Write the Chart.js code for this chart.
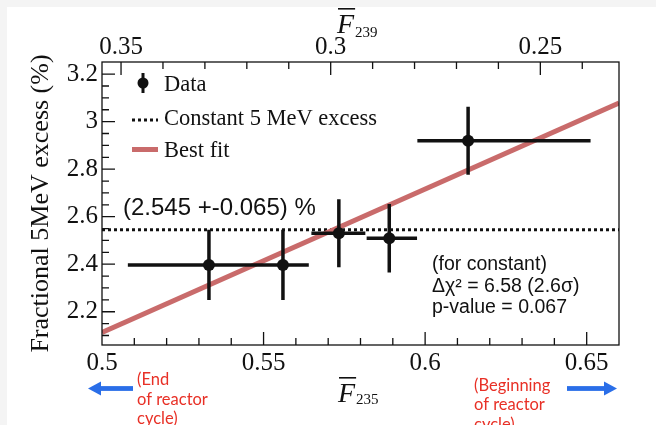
<!DOCTYPE html>
<html>
<head>
<meta charset="utf-8">
<script src="https://cdn.jsdelivr.net/npm/chart.js@4.4.0/dist/chart.umd.min.js"></script>
<style>
  html, body { margin: 0; padding: 0; background: #fff; }
  #wrap { width: 656px; height: 425px; position: relative; }
</style>
</head>
<body>
<div id="wrap"><canvas id="excessChart"></canvas></div>
<script>
'use strict';

/* fractional 5 MeV excess per fission-fraction bin */
const f235 = [0.5331, 0.5560, 0.5733, 0.5889, 0.6133];
const binLow = [0.508, 0.548, 0.5648, 0.5819, 0.5976];
const binHigh = [0.548, 0.564, 0.5815, 0.5975, 0.6512];
const excess = [2.397, 2.397, 2.530, 2.509, 2.920];
const excessErr = [0.148, 0.148, 0.143, 0.144, 0.143];

/* straight-line fit and the constant hypothesis */
const fitX = [0.5, 0.66];
const fitY = [2.113, 3.078];
const constExcess = 2.545;
const constErr = 0.065;

/* axes */
const xRange = [0.5, 0.66];
const yRange = [2.06, 3.251];
const f239Range = [0.23124, 0.35454];
const xTicks = [0.5, 0.55, 0.6, 0.65];
const yTicks = [2.2, 2.4, 2.6, 2.8, 3.0, 3.2];
const f239Ticks = [0.35, 0.3, 0.25];

const serif = '"Liberation Serif", "Times New Roman", serif';
const sans = '"Liberation Sans", Arial, sans-serif';
const ink = '#111';
const fitColor = '#c96b6b';
const noteRed = 'rgb(232, 48, 38)';
const arrowBlue = 'rgb(42, 110, 232)';

function tickLabel(v) {
    return String(Math.round(v * 1000) / 1000);
}

function fixedTicks(list) {
    return function(scale) {
        scale.ticks = list.map(v => ({ value: v }));
    };
}

/* error bars, drawn just before the data markers */
const errorBars = {
    id: 'errorBars',
    beforeDatasetDraw(chart, args) {
        if (args.index !== 0) return;
        const x = chart.scales.x;
        const y = chart.scales.y;
        const ctx = chart.ctx;
        ctx.save();
        ctx.strokeStyle = ink;
        ctx.lineWidth = 3.5;
        ctx.beginPath();
        for (let i = 0; i < f235.length; i++) {
            const px = x.getPixelForValue(f235[i]);
            const py = y.getPixelForValue(excess[i]);
            ctx.moveTo(x.getPixelForValue(binLow[i]), py);
            ctx.lineTo(x.getPixelForValue(binHigh[i]), py);
            ctx.moveTo(px, y.getPixelForValue(excess[i] + excessErr[i]));
            ctx.lineTo(px, y.getPixelForValue(excess[i] - excessErr[i]));
        }
        ctx.stroke();
        ctx.restore();
    }
};

/* frame with inward ticks */
const frameTicks = {
    id: 'frameTicks',
    afterDatasetsDraw(chart) {
        const ctx = chart.ctx;
        const a = chart.chartArea;
        const s = chart.scales;
        ctx.save();
        ctx.strokeStyle = ink;
        ctx.lineWidth = 1.3;
        ctx.strokeRect(a.left, a.top, a.right - a.left, a.bottom - a.top);
        ctx.beginPath();
        for (let v = 50; v <= 66; v++) {
            const px = s.x.getPixelForValue(v / 100);
            if (px < a.left + 2 || px > a.right - 2) continue;
            ctx.moveTo(px, a.bottom);
            ctx.lineTo(px, a.bottom - (v % 5 === 0 ? 13 : 7));
        }
        for (let v = 23; v <= 36; v++) {
            const px = s.x2.getPixelForValue(v / 100);
            if (px < a.left + 2 || px > a.right - 2) continue;
            ctx.moveTo(px, a.top);
            ctx.lineTo(px, a.top + (v % 5 === 0 ? 13 : 7));
        }
        for (let v = 41; v <= 66; v++) {
            const py = s.y.getPixelForValue(v / 20);
            if (py < a.top + 2 || py > a.bottom - 2) continue;
            ctx.moveTo(a.left, py);
            ctx.lineTo(a.left + (v % 4 === 0 ? 13 : 7), py);
        }
        ctx.stroke();
        ctx.restore();
    }
};

function barF(ctx, x, baseline, sub, subBaseline) {
    ctx.font = 'italic 28px ' + serif;
    ctx.fillText('F', x, baseline);
    const w = ctx.measureText('F').width;
    ctx.fillRect(x + 1, baseline - 25, w, 1.6);
    ctx.font = '15px ' + serif;
    ctx.fillText(sub, x + w + 1, subBaseline);
}

function arrow(ctx, tailX, tipX, y) {
    const dir = tipX > tailX ? 1 : -1;
    const head = 13;
    ctx.fillRect(Math.min(tailX, tipX - dir * head), y - 2.4, Math.abs(tipX - tailX) - head, 4.8);
    ctx.beginPath();
    ctx.moveTo(tipX, y);
    ctx.lineTo(tipX - dir * head, y - 7);
    ctx.lineTo(tipX - dir * head, y + 7);
    ctx.closePath();
    ctx.fill();
}

/* legend, notes, axis titles and the reactor-cycle hints */
const decorations = {
    id: 'decorations',
    beforeDraw(chart) {
        const ctx = chart.ctx;
        ctx.save();
        ctx.fillStyle = '#f4f4f4';
        ctx.fillRect(0, 0, chart.width, chart.height);
        ctx.fillStyle = '#fff';
        ctx.fillRect(7, 7, chart.width - 7, chart.height - 7);
        ctx.restore();
    },
    afterDraw(chart) {
        const ctx = chart.ctx;
        const ds = chart.data.datasets;
        ctx.save();

        // legend
        ctx.strokeStyle = ink;
        ctx.fillStyle = ink;
        ctx.lineWidth = 3;
        ctx.beginPath();
        ctx.moveTo(143, 73);
        ctx.lineTo(143, 93);
        ctx.stroke();
        ctx.beginPath();
        ctx.arc(143, 83, 5.5, 0, Math.PI * 2);
        ctx.fill();
        ctx.setLineDash(ds[2].borderDash);
        ctx.lineWidth = ds[2].borderWidth;
        ctx.beginPath();
        ctx.moveTo(132, 120);
        ctx.lineTo(158, 120);
        ctx.stroke();
        ctx.setLineDash([]);
        ctx.strokeStyle = ds[1].borderColor;
        ctx.lineWidth = ds[1].borderWidth;
        ctx.beginPath();
        ctx.moveTo(132, 149.5);
        ctx.lineTo(158, 149.5);
        ctx.stroke();
        ctx.font = '22.5px ' + serif;
        ctx.fillText(ds[0].label, 164, 90.5);
        ctx.fillText(ds[2].label, 164, 125);
        ctx.fillText(ds[1].label, 164, 157);

        // fitted constant and test statistic
        ctx.font = '24px ' + sans;
        ctx.fillText('(' + constExcess + ' +-' + constErr + ') %', 123, 215);
        ctx.font = '19.5px ' + sans;
        ctx.fillText('(for constant)', 432, 270);
        ctx.fillText('\u0394\u03c7\u00b2 = 6.58 (2.6\u03c3)', 432, 291.5);
        ctx.fillText('p-value = 0.067', 432, 313);

        // axis titles
        barF(ctx, 338, 402, '235', 403.5);
        barF(ctx, 337, 33, '239', 37);

        // reactor-cycle hints
        ctx.fillStyle = noteRed;
        ctx.font = '16.5px Lato, sans-serif';
        ['(End', 'of reactor', 'cycle)'].forEach((t, i) => ctx.fillText(t, 137, 385 + i * 19.5));
        ['(Beginning', 'of reactor', 'cycle)'].forEach((t, i) => ctx.fillText(t, 474, 390.5 + i * 19.5));
        ctx.fillStyle = arrowBlue;
        arrow(ctx, 133, 88, 388.5);
        arrow(ctx, 567, 617, 388.5);

        ctx.restore();
    }
};

const chart = new Chart(document.getElementById('excessChart'), {
    data: {
        datasets: [
            {
                type: 'scatter',
                label: 'Data',
                data: f235.map((x, i) => ({ x: x, y: excess[i] })),
                pointRadius: 6,
                pointBackgroundColor: ink,
                pointBorderWidth: 0
            },
            {
                type: 'line',
                label: 'Best fit',
                data: fitX.map((x, i) => ({ x: x, y: fitY[i] })),
                borderColor: fitColor,
                borderWidth: 5,
                pointRadius: 0
            },
            {
                type: 'line',
                label: 'Constant 5 MeV excess',
                data: xRange.map(x => ({ x: x, y: constExcess })),
                borderColor: ink,
                borderWidth: 3,
                borderDash: [3, 3],
                pointRadius: 0
            }
        ]
    },
    options: {
        responsive: true,
        maintainAspectRatio: false,
        animation: false,
        events: [],
        layout: { padding: { left: 0, right: 37, top: 0, bottom: 0 } },
        plugins: { legend: { display: false }, tooltip: { enabled: false } },
        scales: {
            x: {
                type: 'linear',
                position: 'bottom',
                min: xRange[0],
                max: xRange[1],
                afterBuildTicks: fixedTicks(xTicks),
                afterFit: function(s) { s.height = 80; },
                grid: { display: false, drawTicks: false },
                border: { display: false },
                ticks: { font: { family: serif, size: 25 }, color: ink, padding: 3, maxRotation: 0, autoSkip: false, callback: tickLabel }
            },
            x2: {
                type: 'linear',
                position: 'top',
                reverse: true,
                min: f239Range[0],
                max: f239Range[1],
                afterBuildTicks: fixedTicks(f239Ticks),
                afterFit: function(s) { s.height = 62; },
                grid: { display: false, drawTicks: false },
                border: { display: false },
                ticks: { font: { family: serif, size: 25 }, color: ink, padding: 0, maxRotation: 0, autoSkip: false, callback: tickLabel }
            },
            y: {
                type: 'linear',
                position: 'left',
                min: yRange[0],
                max: yRange[1],
                afterBuildTicks: fixedTicks(yTicks),
                afterFit: function(s) { s.width = 102; },
                grid: { display: false, drawTicks: false },
                border: { display: false },
                ticks: { font: { family: serif, size: 25 }, color: ink, padding: 4, autoSkip: false, callback: tickLabel },
                title: {
                    display: true,
                    text: 'Fractional 5MeV excess (%)',
                    font: { family: serif, size: 26 },
                    color: ink,
                    padding: { top: 25.6, bottom: 0 }
                }
            }
        }
    },
    plugins: [errorBars, frameTicks, decorations]
});
</script>
</body>
</html>
